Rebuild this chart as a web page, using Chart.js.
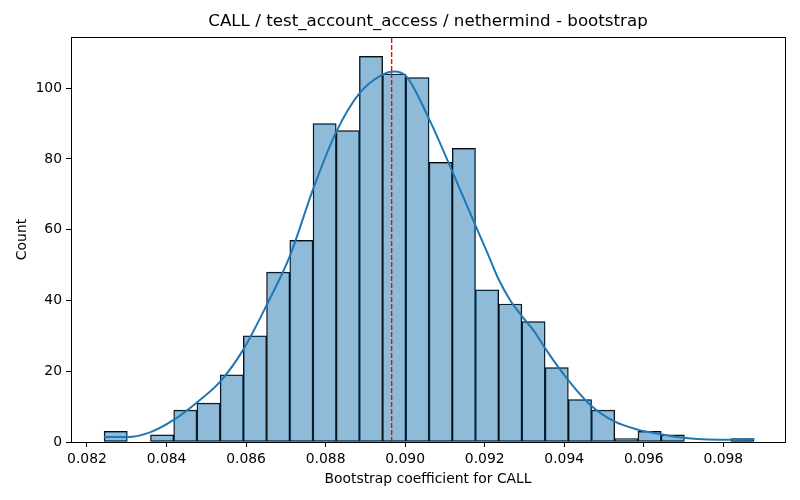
<!DOCTYPE html>
<html>
<head>
<meta charset="utf-8">
<script src="https://cdn.jsdelivr.net/npm/chart.js@4.4.1/dist/chart.umd.min.js"></script>
<style>
  body { margin: 0; background: #fff; }
  .canvasDiv { width: 800px; height: 500px; }
</style>
</head>
<body>
<div class="canvasDiv"><canvas id="myChart"></canvas></div>
<script>
// histogram bins (left edge of first bin + bin width) and counts
const binStart = 0.08243
const binWidth = 0.00058364
const counts = [3, 0, 2, 9, 11, 19, 30, 48, 57, 90, 88, 109, 104, 103, 79, 83, 43, 39, 34, 21, 12, 9, 1, 3, 2, 0, 0, 1]

// kde curve (scaled to counts)
const kdeX = [0.08243, 0.08302, 0.08360, 0.08419, 0.08478, 0.08536, 0.08593, 0.08650, 0.08710, 0.08769,
  0.08826, 0.08884, 0.08943, 0.08972, 0.09003, 0.09060, 0.09118, 0.09176, 0.09207, 0.09235, 0.09266,
  0.09294, 0.09325, 0.09350, 0.09409, 0.09467, 0.09526, 0.09585, 0.09643, 0.09702, 0.09761, 0.09819, 0.09878]
const kdeY = [1.4, 1.4, 2.8, 6.3, 11.3, 17.2, 26.1, 38.3, 52.5, 71.6,
  87.5, 98.4, 103.8, 104.7, 103.3, 91.3, 76.6, 61.4, 53.4, 46.0, 39.7,
  35.5, 31.2, 26.8, 17.6, 10.3, 5.8, 3.5, 2.2, 1.2, 0.7, 0.65, 0.85]

const meanLine = 0.08966
const xTicks = [0.082, 0.084, 0.086, 0.088, 0.090, 0.092, 0.094, 0.096, 0.098]
const yTicks = [0, 20, 40, 60, 80, 100]
const xMin = 0.081598, xMax = 0.099551
const yMax = 114.45
const titleText = 'CALL / test_account_access / nethermind - bootstrap'

const font = 'DejaVu Sans'

barData = counts.map((c, i) => ({ x: binStart + (i + 0.5) * binWidth, y: c }))
kdeData = kdeX.map((x, i) => ({ x: x, y: kdeY[i] }))

// frame round the plot + title centred over the axes, like matplotlib
boxPlugin = {
    id: 'box',
    afterDraw: (chart) => {
        const a = chart.chartArea
        const c = chart.ctx
        c.save()
        c.strokeStyle = '#000'
        c.lineWidth = 1
        c.strokeRect(Math.round(a.left) + 0.5, Math.round(a.top) + 0.5, Math.round(a.right - a.left), Math.round(a.bottom - a.top))
        c.fillStyle = '#000'
        c.font = '16.7px "' + font + '"'
        c.textAlign = 'center'
        c.textBaseline = 'middle'
        c.fillText(titleText, (a.left + a.right) / 2, 22)
        c.restore()
    }
}

drawHist = () => {
    var ctx = document.getElementById('myChart').getContext('2d')
    new Chart(ctx, {
        type: 'bar',
        data: {
            datasets: [{
                type: 'line',
                data: [{ x: meanLine, y: 0 }, { x: meanLine, y: yMax }],
                borderColor: '#ff0000',
                borderWidth: 1.4,
                borderDash: [5, 2],
                pointRadius: 0,
                order: 1
            }, {
                type: 'line',
                data: kdeData,
                borderColor: '#1f77b4',
                borderWidth: 2,
                pointRadius: 0,
                cubicInterpolationMode: 'monotone',
                order: 2
            }, {
                type: 'bar',
                data: barData,
                backgroundColor: 'rgba(31,119,180,0.5)',
                borderColor: '#000',
                borderWidth: 0.8,
                borderSkipped: false,
                barPercentage: 1,
                categoryPercentage: 1,
                order: 3
            }]
        },
        options: {
            responsive: true,
            maintainAspectRatio: false,
            animation: false,
            layout: { padding: { left: 10, right: 15, top: 37, bottom: 8 } },
            plugins: {
                legend: { display: false },
                tooltip: { enabled: false },
                title: { display: false }
            },
            scales: {
                x: {
                    type: 'linear',
                    min: xMin,
                    max: xMax,
                    offset: false,
                    afterBuildTicks: (s) => { s.ticks = xTicks.map(v => ({ value: v })) },
                    afterFit: (s) => { s.height = 50 },
                    grid: { offset: false, drawOnChartArea: false, drawTicks: true, tickLength: 5, color: '#000' },
                    border: { display: true, color: '#000', width: 1 },
                    ticks: {
                        color: '#000',
                        padding: 4,
                        maxRotation: 0,
                        font: { family: font, size: 13.9 },
                        callback: (v) => v.toFixed(3)
                    },
                    title: {
                        display: true,
                        text: 'Bootstrap coefficient for CALL',
                        color: '#000',
                        font: { family: font, size: 13.9 }
                    }
                },
                y: {
                    min: 0,
                    max: yMax,
                    afterBuildTicks: (s) => { s.ticks = yTicks.map(v => ({ value: v })) },
                    afterFit: (s) => { s.width = 61 },
                    grid: { drawOnChartArea: false, drawTicks: true, tickLength: 5, color: '#000' },
                    border: { display: true, color: '#000', width: 1 },
                    ticks: {
                        color: '#000',
                        padding: 4,
                        font: { family: font, size: 13.9 }
                    },
                    title: {
                        display: true,
                        text: 'Count',
                        color: '#000',
                        font: { family: font, size: 13.9 }
                    }
                }
            }
        },
        plugins: [boxPlugin]
    })
}

drawHist()
</script>
</body>
</html>
